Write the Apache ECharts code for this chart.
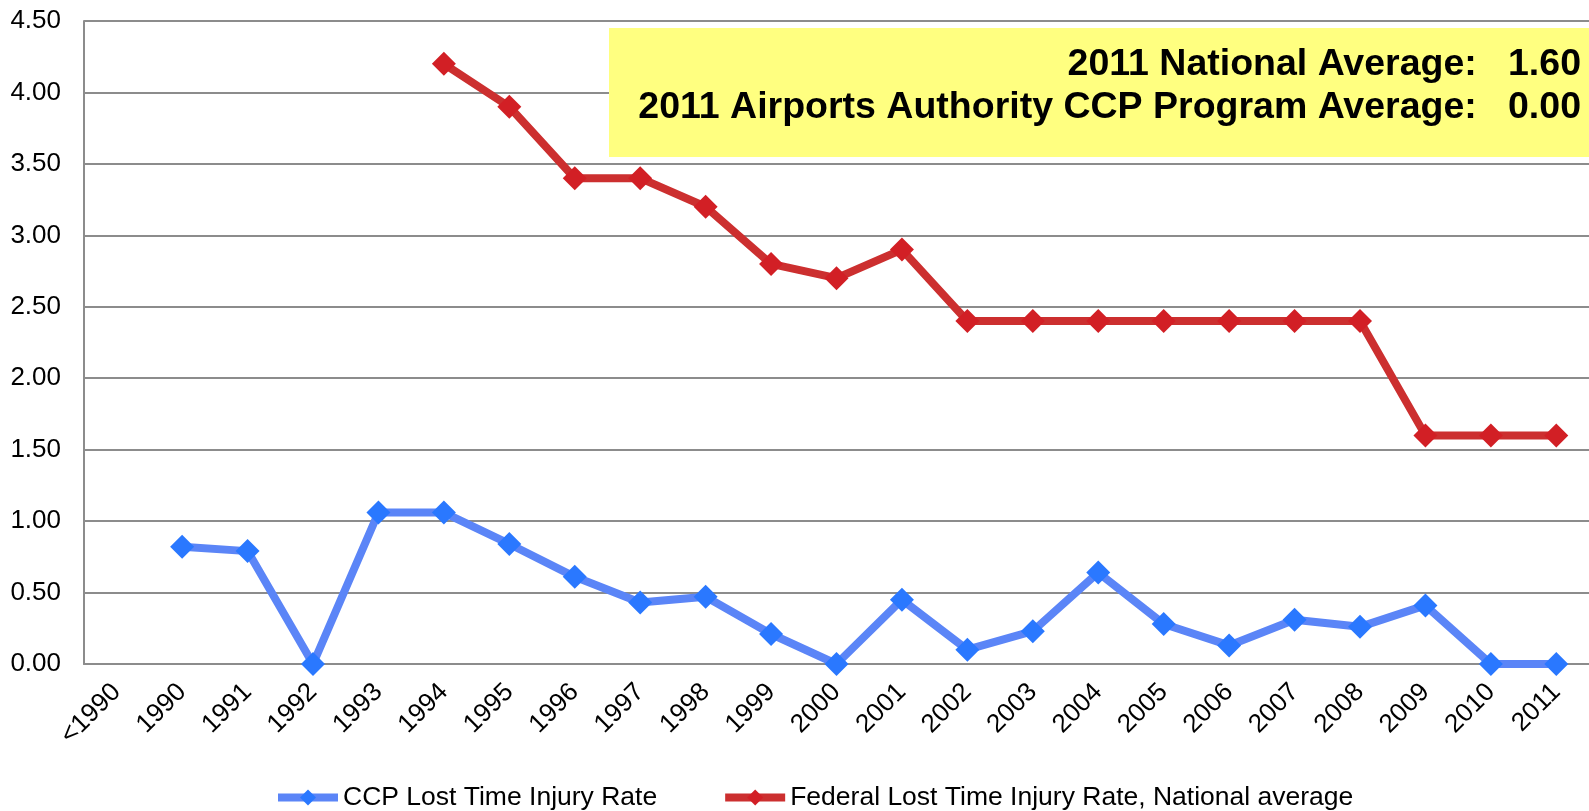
<!DOCTYPE html>
<html lang="en">
  <head>
    <meta charset="UTF-8" />
    <title>Lost Time Injury Rate</title>
    <script src="https://cdn.jsdelivr.net/npm/echarts@6/dist/echarts.min.js"></script>
    <style>
      html, body { margin: 0; padding: 0; background: #fff; }
      #chart { width: 1589px; height: 811px; }
    </style>
  </head>
  <body>
    <div id="chart"></div>
    <script>
      const years = ["<1990", "1990", "1991", "1992", "1993", "1994", "1995", "1996", "1997", "1998", "1999",
        "2000", "2001", "2002", "2003", "2004", "2005", "2006", "2007", "2008", "2009", "2010", "2011"];
      const ccpRate = [null, 0.82, 0.79, 0.0, 1.06, 1.06, 0.84, 0.61, 0.43, 0.47, 0.21,
        0.0, 0.45, 0.10, 0.23, 0.64, 0.28, 0.13, 0.31, 0.26, 0.41, 0.0, 0.0];
      const federalRate = [null, null, null, null, null, 4.2, 3.9, 3.4, 3.4, 3.2, 2.8,
        2.7, 2.9, 2.4, 2.4, 2.4, 2.4, 2.4, 2.4, 2.4, 1.6, 1.6, 1.6];
      const boxLines = [
        "2011 National Average:   1.60",
        "2011 Airports Authority CCP Program Average:   0.00"
      ];

      const font = "Arial, 'Liberation Sans', sans-serif";
      const chart = echarts.init(document.getElementById("chart"));

      chart.setOption({
        animation: false,
        textStyle: { fontFamily: font },
        grid: { left: 84, right: -15, top: 21, bottom: 147, containLabel: false },
        xAxis: {
          type: "category",
          data: years,
          boundaryGap: true,
          axisLine: { lineStyle: { color: "#8c8c8c", width: 2 } },
          axisTick: { show: false },
          axisLabel: { rotate: 45, color: "#000", fontSize: 26, margin: 24, interval: 0 }
        },
        yAxis: {
          type: "value",
          min: 0,
          max: 4.5,
          interval: 0.5,
          axisLine: { show: true, lineStyle: { color: "#8c8c8c", width: 2 } },
          axisTick: { show: false },
          axisLabel: { color: "#000", fontSize: 26, margin: 23, formatter: v => v.toFixed(2) },
          splitLine: { lineStyle: { color: "#8c8c8c", width: 2 } }
        },
        legend: {
          top: 779,
          left: 269,
          itemGap: 64,
          itemWidth: 60,
          itemHeight: 20,
          lineStyle: { width: 8 },
          textStyle: { fontSize: 26.5, color: "#000" },
          data: ["CCP Lost Time Injury Rate", "Federal Lost Time Injury Rate, National average"]
        },
        series: [
          {
            name: "CCP Lost Time Injury Rate",
            type: "line",
            data: ccpRate,
            symbol: "diamond",
            symbolSize: 24,
            lineStyle: { color: "#5b85f7", width: 8 },
            itemStyle: { color: "#2a78ff" },
            z: 3
          },
          {
            name: "Federal Lost Time Injury Rate, National average",
            type: "line",
            data: federalRate,
            symbol: "diamond",
            symbolSize: 24,
            lineStyle: { color: "#cc2f2f", width: 8 },
            itemStyle: { color: "#d21f25" },
            z: 4
          }
        ],
        graphic: [
          {
            type: "rect",
            left: 609,
            top: 28,
            shape: { width: 1000, height: 129 },
            style: { fill: "#ffff80" },
            z: 10
          },
          {
            type: "text",
            right: 8,
            top: 46,
            style: { text: boxLines[0], font: "bold 37.5px " + font, fill: "#000", textAlign: "right" },
            z: 11
          },
          {
            type: "text",
            right: 8,
            top: 89,
            style: { text: boxLines[1], font: "bold 37.5px " + font, fill: "#000", textAlign: "right" },
            z: 11
          }
        ]
      });
    </script>
  </body>
</html>
